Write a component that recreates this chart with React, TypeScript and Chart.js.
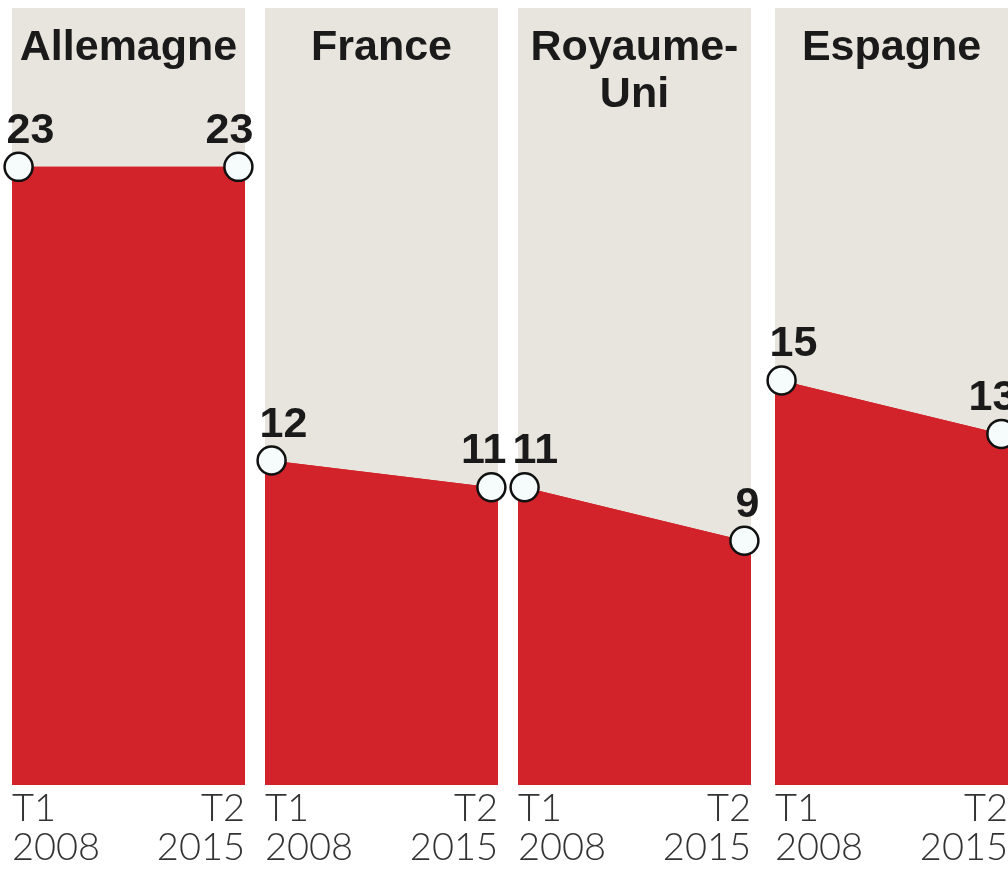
import React, { useEffect, useRef } from 'react';
import { Chart, registerables } from 'chart.js';

Chart.register(...registerables);

// ---- data ----
const countries = ['Allemagne', 'France', 'Royaume-Uni', 'Espagne'];
const titleLines = [['Allemagne'], ['France'], ['Royaume-', 'Uni'], ['Espagne']];
const periodLabels = [['T1', '2008'], ['T2', '2015']];
const startValues = [23, 12, 11, 15];
const endValues = [23, 11, 9, 13];

// ---- style ----
const RED = '#d2222a';
const BEIGE = '#e8e5de';
const INK = '#1a1a1a';
const PANEL_LEFTS = [12, 265, 518, 775];
const PANEL_W = 233;
const PAD = 14;
const H = 869;
const BOLD = 'bold 43px "Liberation Sans", Arial, sans-serif';

const panelPlugin = {
  id: 'panelDecor',
  beforeDatasetsDraw(chart: any, _args: any, opts: any) {
    const { ctx, chartArea: a } = chart;
    ctx.save();
    ctx.fillStyle = BEIGE;
    ctx.fillRect(a.left, a.top, a.right - a.left, a.bottom - a.top);
    // title
    ctx.fillStyle = INK;
    ctx.font = BOLD;
    ctx.textAlign = 'center';
    ctx.textBaseline = 'alphabetic';
    (opts.title || []).forEach((line: string, i: number) => {
      ctx.fillText(line, (a.left + a.right) / 2, a.top + 52 + i * 47);
    });
    // red area extended to the panel edges along the data line
    const pts = chart.getDatasetMeta(0).data;
    if (pts.length >= 2) {
      const p0 = pts[0];
      const p1 = pts[pts.length - 1];
      const slope = (p1.y - p0.y) / (p1.x - p0.x);
      const yl = p0.y + slope * (a.left - p0.x);
      const yr = p1.y + slope * (a.right - p1.x);
      ctx.fillStyle = RED;
      ctx.beginPath();
      ctx.moveTo(a.left, a.bottom);
      ctx.lineTo(a.left, yl);
      ctx.lineTo(a.right, yr);
      ctx.lineTo(a.right, a.bottom);
      ctx.closePath();
      ctx.fill();
    }
    ctx.restore();
  },
  afterDatasetsDraw(chart: any) {
    const { ctx } = chart;
    const pts = chart.getDatasetMeta(0).data;
    const data = chart.data.datasets[0].data;
    ctx.save();
    ctx.fillStyle = INK;
    ctx.font = BOLD;
    ctx.textBaseline = 'alphabetic';
    pts.forEach((pt: any, i: number) => {
      const last = i === pts.length - 1;
      ctx.textAlign = last ? 'right' : 'left';
      ctx.fillText(String(Math.round(data[i].y)), last ? pt.x + 15 : pt.x - 12, pt.y - 24);
    });
    ctx.restore();
  },
};

function Panel({ index }: { index: number }) {
  const ref = useRef<HTMLCanvasElement | null>(null);
  useEffect(() => {
    if (!ref.current) return;
    const chart = new Chart(ref.current, {
      type: 'line',
      data: {
        datasets: [
          {
            label: countries[index],
            data: [
              { x: 0, y: startValues[index] },
              { x: 1, y: endValues[index] },
            ],
            fill: 'start',
            backgroundColor: RED,
            borderColor: RED,
            borderWidth: 0,
            pointRadius: 14,
            pointBackgroundColor: '#f6fbfc',
            pointBorderColor: '#111111',
            pointBorderWidth: 2.5,
            clip: false,
          } as any,
        ],
      },
      options: {
        responsive: false,
        animation: false,
        events: [],
        layout: { autoPadding: false, padding: { left: PAD, right: PAD, top: 8, bottom: 0 } },
        plugins: {
          legend: { display: false },
          tooltip: { enabled: false },
          panelDecor: { title: titleLines[index] },
        } as any,
        scales: {
          x: {
            type: 'linear',
            min: -0.03,
            max: 1.03,
            grid: { display: false, drawTicks: false },
            border: { display: false },
            afterBuildTicks: (s: any) => {
              s.ticks = [{ value: s.min }, { value: s.max }];
            },
            afterFit: (s: any) => {
              s.height = 84;
            },
            ticks: {
              autoSkip: false,
              maxRotation: 0,
              minRotation: 0,
              align: 'inner',
              padding: 4,
              color: '#333333',
              font: { family: 'Lato, "Liberation Sans", sans-serif', size: 38, weight: '300', lineHeight: 1.03 },
              callback: (_v: any, i: number) => periodLabels[i],
            },
          } as any,
          y: { display: false, min: -0.15, max: 28.95 },
        },
      } as any,
      plugins: [panelPlugin as any],
    });
    return () => chart.destroy();
  }, [index]);
  return (
    <canvas
      ref={ref}
      width={PANEL_W + 2 * PAD}
      height={H}
      style={{ position: 'absolute', left: PANEL_LEFTS[index] - PAD, top: 0, width: PANEL_W + 2 * PAD, height: H }}
    />
  );
}

export default function App() {
  return (
    <div
      style={{
        position: 'fixed',
        left: 0,
        top: 0,
        width: 1008,
        height: H,
        overflow: 'hidden',
        background: '#ffffff',
      }}
    >
      {countries.map((_, i) => (
        <Panel key={i} index={i} />
      ))}
    </div>
  );
}
